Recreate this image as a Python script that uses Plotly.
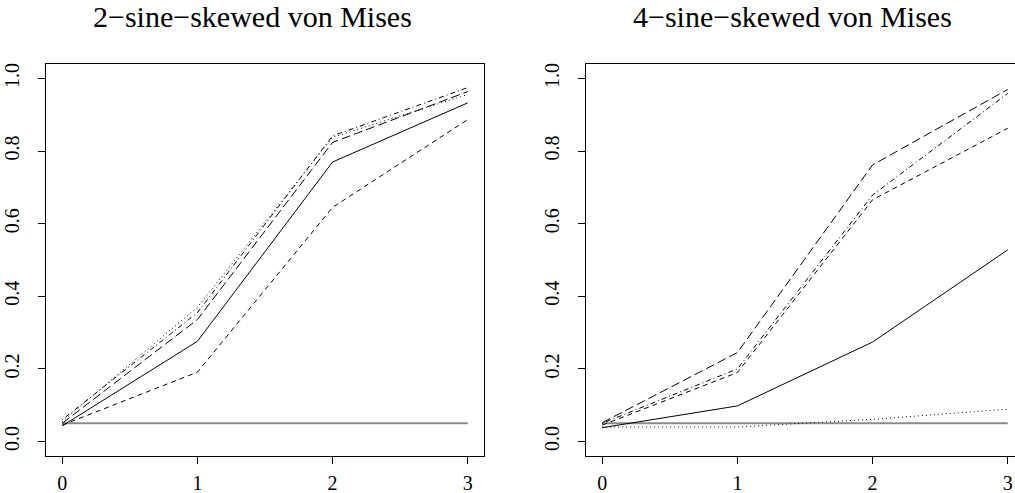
import plotly.graph_objects as go

# ---- data ----
x_levels = [0, 1, 2, 3]
nominal_level = 0.05

# 2-sine-skewed von Mises (left panel)
left_solid = [0.043, 0.276, 0.770, 0.933]
left_dashed = [0.045, 0.191, 0.645, 0.887]
left_dotted = [0.055, 0.370, 0.838, 0.956]
left_dotdash = [0.060, 0.355, 0.842, 0.975]
left_longdash = [0.050, 0.336, 0.824, 0.964]

# 4-sine-skewed von Mises (right panel)
right_solid = [0.038, 0.098, 0.274, 0.528]
right_dashed = [0.045, 0.190, 0.666, 0.863]
right_dotted = [0.040, 0.040, 0.061, 0.089]
right_dotdash = [0.050, 0.200, 0.679, 0.959]
right_longdash = [0.052, 0.245, 0.762, 0.970]

titles = ["2\u2212sine\u2212skewed von Mises", "4\u2212sine\u2212skewed von Mises"]
x_ticks = [0, 1, 2, 3]
y_ticks = [0.0, 0.2, 0.4, 0.6, 0.8, 1.0]
y_ticktext = ["0.0", "0.2", "0.4", "0.6", "0.8", "1.0"]

# ---- styling ----
W, H = 1015, 493
FONT = "Liberation Serif"
dashes = {
    "solid": "solid",
    "dashed": "5px,4px",
    "dotted": "1px,3px",
    "dotdash": "1px,3px,5px,3px",
    "longdash": "9px,4px",
}

fig = go.Figure()

panels = [
    ("x", "y", [left_solid, left_dashed, left_dotted, left_dotdash, left_longdash]),
    ("x2", "y2", [right_solid, right_dashed, right_dotted, right_dotdash, right_longdash]),
]
styles = ["solid", "dashed", "dotted", "dotdash", "longdash"]

for xa, ya, series in panels:
    fig.add_trace(go.Scatter(
        x=[x_levels[0], x_levels[-1]], y=[nominal_level, nominal_level],
        mode="lines", line=dict(color="#8a8a8a", width=2),
        xaxis=xa, yaxis=ya, showlegend=False, hoverinfo="skip"))
    for vals, st in zip(series, styles):
        fig.add_trace(go.Scatter(
            x=x_levels, y=vals, mode="lines",
            line=dict(color="black", width=1, dash=dashes[st]),
            xaxis=xa, yaxis=ya, showlegend=False))

def px_x(p):
    return p / W

def px_y(p):
    return (H - p) / H

box_l1, box_r1 = 46, 484
box_l2, box_r2 = 586, 1024
box_t, box_b = 64, 456
ppu = (box_r1 - box_l1) / 3.24

axis_common = dict(
    showgrid=False, zeroline=False, showline=True, linecolor="black", linewidth=1,
    ticks="outside", ticklen=7, tickwidth=1, tickcolor="black", automargin=False,
    tickfont=dict(family=FONT, size=20, color="black"),
)

x2_right = (1015 - box_l2) / ppu - 0.12

fig.update_layout(
    width=W, height=H,
    margin=dict(l=0, r=0, t=0, b=0, autoexpand=False),
    plot_bgcolor="white", paper_bgcolor="white",
    xaxis=dict(domain=[px_x(box_l1), px_x(box_r1)], range=[-0.12, 3.12],
               tickvals=x_ticks, mirror=True, ticklabelstandoff=2, anchor="y", **axis_common),
    yaxis=dict(domain=[px_y(box_b), px_y(box_t)], range=[-0.04, 1.04],
               tickvals=y_ticks, ticktext=y_ticktext, tickangle=-90, mirror=True,
               ticklabelstandoff=11, anchor="x", **axis_common),
    xaxis2=dict(domain=[px_x(box_l2), 1.0], range=[-0.12, x2_right],
                tickvals=x_ticks, mirror=True, ticklabelstandoff=2, anchor="y2", **axis_common),
    yaxis2=dict(domain=[px_y(box_b), px_y(box_t)], range=[-0.04, 1.04],
                tickvals=y_ticks, ticktext=y_ticktext, tickangle=-90, mirror=False,
                ticklabelstandoff=11, anchor="x2", **axis_common),
)

for t, cx in zip(titles, [252, 792]):
    fig.add_annotation(text=t, x=px_x(cx), y=px_y(16), xref="paper", yref="paper",
                       xanchor="center", yanchor="middle", showarrow=False,
                       font=dict(family=FONT, size=30, color="black"))

fig.write_html(
    "out.html",
    config={"displayModeBar": False},
    post_script="document.body.style.margin='0';document.body.style.overflow='hidden';",
)
